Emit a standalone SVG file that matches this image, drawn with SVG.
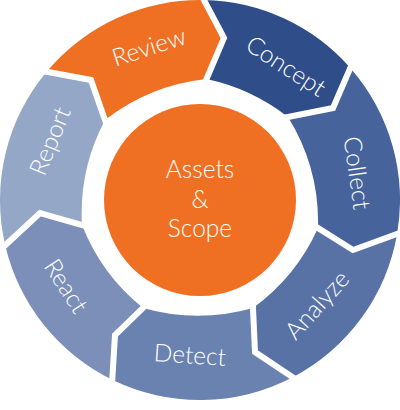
<svg xmlns="http://www.w3.org/2000/svg" width="400" height="410" viewBox="0 0 400 410">
<style>
.lbl{font-family:Lato,"Noto Sans","Liberation Sans",sans-serif;font-size:24.5px;font-weight:300;fill:#fff;text-anchor:middle}
.div{fill:none;stroke:#fff;stroke-width:6;stroke-linejoin:miter;stroke-miterlimit:10}
</style>
<rect width="400" height="410" fill="#fff"/>
<g id="review">
<path fill="#EF7023" d="M46.6,71.7 A200,200 0 0 1 204,0.04 L224,38 L206.5,79 A200,200 0 0 0 105,120 L91,80 Z"/>
<text class="lbl" transform="translate(149,47) rotate(-18)" y="8.5">Review</text>
</g>
<g id="concept">
<path fill="#2F4D88" d="M204,0.04 A200,200 0 0 1 350.3,68 L333,108 L288,117 A200,200 0 0 0 206.5,79 L224,38 Z"/>
<text class="lbl" transform="translate(286,66) rotate(33)" y="8.5">Concept</text>
</g>
<g id="collect">
<path fill="#46639C" d="M350.3,68 A200,200 0 0 1 397.1,234 L353,250 L318,228 A200,200 0 0 0 288,117 L333,108 Z"/>
<text class="lbl" transform="translate(357,173) rotate(82)" y="8.5">Collect</text>
</g>
<g id="analyze">
<path fill="#5872A5" d="M397.1,234 A200,200 0 0 1 292.7,377.2 L255,352 L253,308 A200,200 0 0 0 318,228 L353,250 Z"/>
<text class="lbl" transform="translate(317,305) rotate(-48)" y="8.5">Analyze</text>
</g>
<g id="detect">
<path fill="#6A82B0" d="M292.7,377.2 A200,200 0 0 1 112.2,379.7 L115,335 L143,308 A200,200 0 0 0 253,308 L255,352 Z"/>
<text class="lbl" transform="translate(190,355) rotate(4)" y="8.5">Detect</text>
</g>
<g id="react">
<path fill="#7B8FB8" d="M112.2,379.7 A200,200 0 0 1 5.2,245.3 L40,213 L82,225 A200,200 0 0 0 143,308 L115,335 Z"/>
<text class="lbl" transform="translate(66,286) rotate(57)" y="8.5">React</text>
</g>
<g id="report">
<path fill="#95A7C6" d="M5.2,245.3 A200,200 0 0 1 46.6,71.7 L91,80 L105,120 A200,200 0 0 0 82,225 L40,213 Z"/>
<text class="lbl" transform="translate(50,141) rotate(-68)" y="8.5">Report</text>
</g>
<g id="dividers">
<polyline class="div" points="202.1,-3.5 224,38 204.9,82.7"/>
<polyline class="div" points="351.9,64.3 333,108 284.1,117.8"/>
<polyline class="div" points="400.9,232.6 353,250 314.6,225.9"/>
<polyline class="div" points="296,379.4 255,352 252.8,304"/>
<polyline class="div" points="112,383.7 115,335 145.9,305.2"/>
<polyline class="div" points="2.3,248 40,213 85.8,226.1"/>
<polyline class="div" points="42.7,71 91,80 106.3,123.8"/>
</g>
<g id="center">
<circle cx="200" cy="200" r="96" fill="#EF7023"/>
<text class="lbl" x="200" y="178">Assets</text>
<text class="lbl" x="200" y="207.5">&amp;</text>
<text class="lbl" x="200" y="237">Scope</text>
</g>
</svg>
